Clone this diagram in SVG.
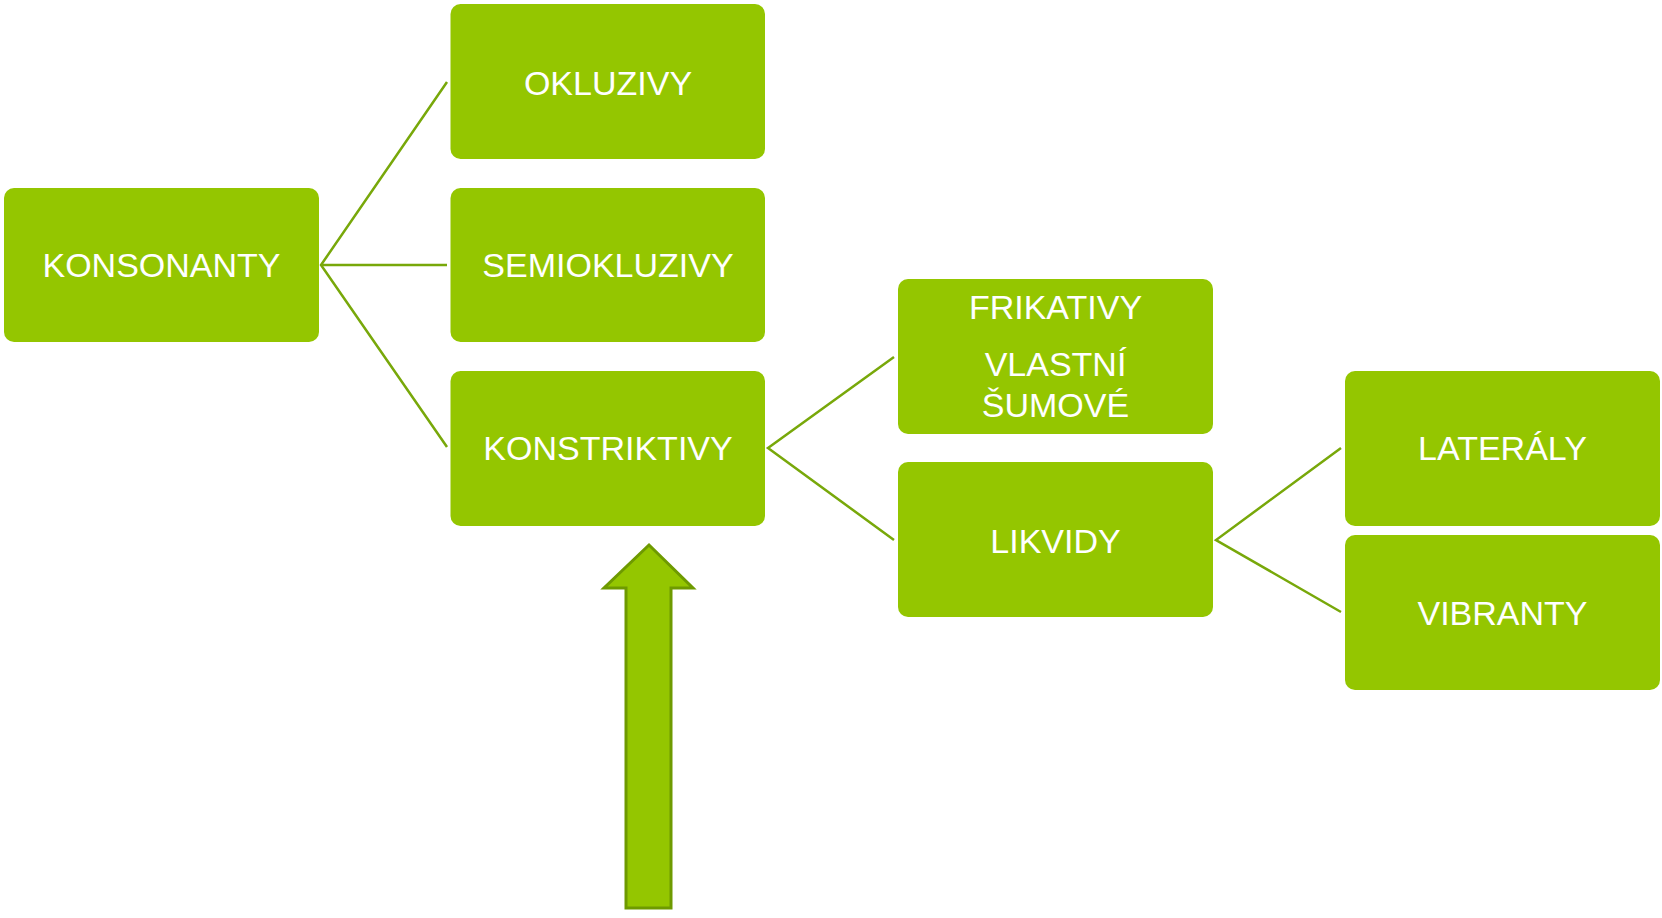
<svg xmlns="http://www.w3.org/2000/svg" width="1662" height="918" viewBox="0 0 1662 918">
<style>
.box{fill:#94C600;}
.lbl{fill:#FFFFFF;font-family:"Liberation Sans",Arial,sans-serif;font-size:34px;text-anchor:middle;}
.con{fill:none;stroke:#78A80A;stroke-width:2.5;}
</style>
<rect width="1662" height="918" fill="#FFFFFF"/>
<g id="connectors">
<polyline class="con" points="447,82 321,265 447,447"/>
<line class="con" x1="321" y1="265" x2="447" y2="265"/>
<polyline class="con" points="894,357 768,448 894,540"/>
<polyline class="con" points="1341,448 1216,540 1341,612"/>
</g>
<g id="n-konsonanty"><rect class="box" x="4" y="188" width="315" height="154" rx="10"/><text class="lbl" x="161.5" y="277">KONSONANTY</text></g>
<g id="n-okluzivy"><rect class="box" x="450.5" y="4" width="314.5" height="155" rx="10"/><text class="lbl" x="608" y="95">OKLUZIVY</text></g>
<g id="n-semiokluzivy"><rect class="box" x="450.5" y="188" width="314.5" height="154" rx="10"/><text class="lbl" x="608" y="277">SEMIOKLUZIVY</text></g>
<g id="n-konstriktivy"><rect class="box" x="450.5" y="371" width="314.5" height="155" rx="10"/><text class="lbl" x="608" y="460">KONSTRIKTIVY</text></g>
<g id="n-frikativy"><rect class="box" x="898" y="279" width="315" height="155" rx="10"/><text class="lbl" x="1055.5" y="319">FRIKATIVY</text><text class="lbl" x="1055.5" y="376">VLASTNÍ</text><text class="lbl" x="1055.5" y="417">ŠUMOVÉ</text></g>
<g id="n-likvidy"><rect class="box" x="898" y="462" width="315" height="155" rx="10"/><text class="lbl" x="1055.5" y="553">LIKVIDY</text></g>
<g id="n-lateraly"><rect class="box" x="1345" y="371" width="315" height="155" rx="10"/><text class="lbl" x="1502.5" y="460">LATERÁLY</text></g>
<g id="n-vibranty"><rect class="box" x="1345" y="535" width="315" height="155" rx="10"/><text class="lbl" x="1502.5" y="625">VIBRANTY</text></g>
<g id="arrow"><polygon points="649,545 693,588 671,588 671,908 626,908 626,588 604,588" fill="#94C600" stroke="#6E9A00" stroke-width="3"/></g>
</svg>
